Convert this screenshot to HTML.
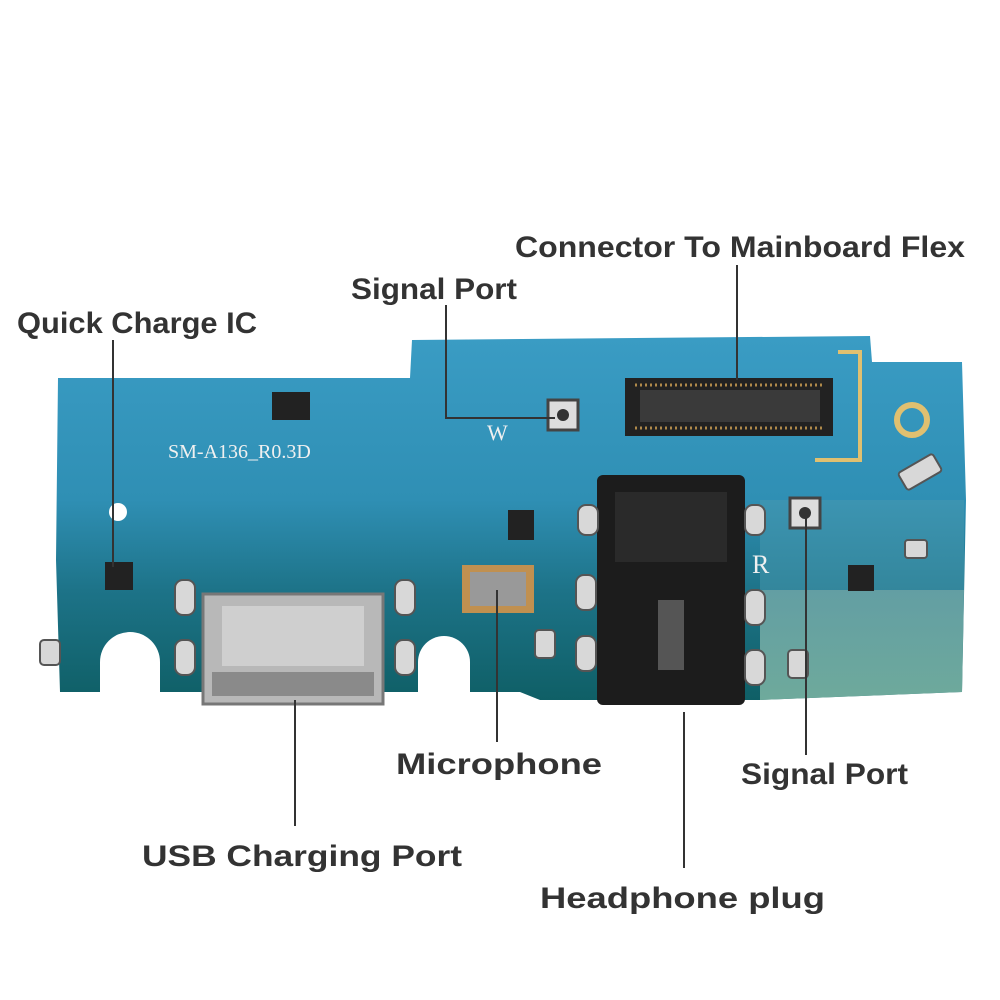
<!DOCTYPE html>
<html><head><meta charset="utf-8"><style>
html,body{margin:0;padding:0;background:#fff}
svg{display:block}
text{font-family:"Liberation Sans",sans-serif;font-weight:bold;fill:#333}
</style></head><body>
<svg width="1000" height="1000" viewBox="0 0 1000 1000" xmlns="http://www.w3.org/2000/svg">
<defs>
<linearGradient id="pcb" x1="0" y1="0" x2="0" y2="1">
<stop offset="0" stop-color="#3a9cc4"/>
<stop offset="0.45" stop-color="#2f8fb4"/>
<stop offset="0.7" stop-color="#1d7388"/>
<stop offset="1" stop-color="#0f5f66"/>
</linearGradient>
<linearGradient id="gray" x1="0" y1="0" x2="0" y2="1">
<stop offset="0" stop-color="#6fa6a8"/>
<stop offset="1" stop-color="#7fb7a5"/>
</linearGradient>
</defs>
<path d="M58,378 L410,378 L412,340 L870,336 L872,362 L962,362 L966,500 L962,692 L760,700 L540,700 L520,692 L470,692 A28,28 0 0 0 418,692 L160,692 A30,30 0 0 0 100,692 L60,692 L56,560 Z" fill="url(#pcb)"/>
<path d="M760,590 L964,590 L962,692 L760,700 Z" fill="url(#gray)" opacity="0.85"/>
<path d="M760,500 L964,500 L964,590 L760,590 Z" fill="#4a9ab0" opacity="0.5"/>
<circle cx="130" cy="662" r="30" fill="#fff"/>
<circle cx="444" cy="662" r="26" fill="#fff"/>
<rect x="100" y="662" width="60" height="40" fill="#fff"/>
<rect x="418" y="662" width="52" height="40" fill="#fff"/>
<rect x="625" y="378" width="208" height="58" fill="#222"/>
<g stroke="#b08a4a" stroke-width="3">
<line x1="635" y1="385" x2="825" y2="385" stroke-dasharray="2 3"/>
<line x1="635" y1="428" x2="825" y2="428" stroke-dasharray="2 3"/>
</g>
<rect x="640" y="390" width="180" height="32" fill="#3a3a3a"/>
<path d="M838,352 L860,352 L860,460 L815,460" fill="none" stroke="#e0c070" stroke-width="4"/>
<circle cx="912" cy="420" r="15" fill="none" stroke="#e0c070" stroke-width="6"/>
<rect x="548" y="400" width="30" height="30" fill="#ddd" stroke="#444" stroke-width="3"/>
<circle cx="563" cy="415" r="6" fill="#333"/>
<rect x="790" y="498" width="30" height="30" fill="#ddd" stroke="#444" stroke-width="3"/>
<circle cx="805" cy="513" r="6" fill="#333"/>
<rect x="272" y="392" width="38" height="28" fill="#222"/>
<rect x="105" y="562" width="28" height="28" fill="#222"/>
<rect x="508" y="510" width="26" height="30" fill="#222"/>
<rect x="848" y="565" width="26" height="26" fill="#222"/>
<rect x="597" y="475" width="148" height="230" rx="6" fill="#1c1c1c"/>
<rect x="615" y="492" width="112" height="70" fill="#2a2a2a"/>
<rect x="658" y="600" width="26" height="70" fill="#555"/>
<rect x="462" y="565" width="72" height="48" fill="#c09050"/>
<rect x="470" y="572" width="56" height="34" fill="#999"/>
<rect x="203" y="594" width="180" height="110" fill="#b8b8b8" stroke="#777" stroke-width="3"/>
<rect x="222" y="606" width="142" height="60" fill="#cfcfcf"/>
<rect x="212" y="672" width="162" height="24" fill="#8a8a8a"/>
<g fill="#d8d8d8" stroke="#555" stroke-width="2">
<rect x="175" y="580" width="20" height="35" rx="8"/><rect x="175" y="640" width="20" height="35" rx="8"/>
<rect x="395" y="580" width="20" height="35" rx="8"/><rect x="395" y="640" width="20" height="35" rx="8"/>
<rect x="576" y="575" width="20" height="35" rx="8"/><rect x="576" y="636" width="20" height="35" rx="8"/>
<rect x="745" y="590" width="20" height="35" rx="8"/><rect x="745" y="650" width="20" height="35" rx="8"/>
<rect x="578" y="505" width="20" height="30" rx="8"/><rect x="745" y="505" width="20" height="30" rx="8"/>
<rect x="40" y="640" width="20" height="25" rx="4"/><rect x="535" y="630" width="20" height="28" rx="4"/>
<rect x="788" y="650" width="20" height="28" rx="4"/><rect x="905" y="540" width="22" height="18" rx="3"/>
<rect x="900" y="462" width="40" height="20" rx="3" transform="rotate(-30 920 472)"/>
</g>
<circle cx="118" cy="512" r="9" fill="#fff"/>
<text x="168" y="458" font-size="20" style="font-weight:normal;fill:#f0f0f0;font-family:'Liberation Serif',serif">SM-A136_R0.3D</text>
<text x="487" y="440" style="font-weight:normal;fill:#f0f0f0;font-family:'Liberation Serif',serif" font-size="22">W</text>
<text x="752" y="573" style="font-weight:normal;fill:#f0f0f0;font-family:'Liberation Serif',serif" font-size="26">R</text>
<g stroke="#333" stroke-width="2" fill="none">
<line x1="113" y1="340" x2="113" y2="567"/>
<polyline points="446,305 446,418 555,418"/>
<line x1="737" y1="265" x2="737" y2="380"/>
<line x1="497" y1="590" x2="497" y2="742"/>
<line x1="806" y1="512" x2="806" y2="755"/>
<line x1="295" y1="700" x2="295" y2="826"/>
<line x1="684" y1="712" x2="684" y2="868"/>
</g>
<g font-size="30">
<text x="515" y="257" textLength="450" lengthAdjust="spacingAndGlyphs">Connector To Mainboard Flex</text>
<text x="351" y="299" textLength="166" lengthAdjust="spacingAndGlyphs">Signal Port</text>
<text x="17" y="333" textLength="240" lengthAdjust="spacingAndGlyphs">Quick Charge IC</text>
<text x="396" y="774" textLength="206" lengthAdjust="spacingAndGlyphs">Microphone</text>
<text x="741" y="784" textLength="167" lengthAdjust="spacingAndGlyphs">Signal Port</text>
<text x="142" y="866" textLength="320" lengthAdjust="spacingAndGlyphs">USB Charging Port</text>
<text x="540" y="908" textLength="285" lengthAdjust="spacingAndGlyphs">Headphone plug</text>
</g>
</svg>
</body></html>
